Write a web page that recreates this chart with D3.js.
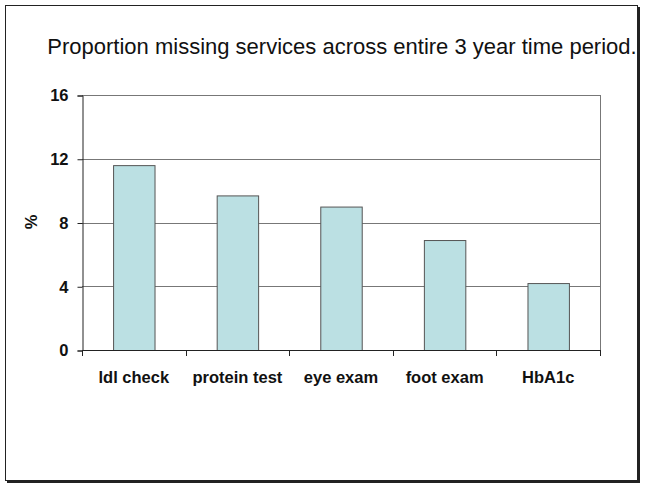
<!DOCTYPE html>
<html><head><meta charset="utf-8">
<script src="https://cdn.jsdelivr.net/npm/d3@7"></script>
<style>body{margin:0;background:#fff}svg{display:block}text{font-family:"Liberation Sans",Arial,sans-serif}</style>
</head><body>
<script>
const categories = ["ldl check", "protein test", "eye exam", "foot exam", "HbA1c"];
const values = [11.6, 9.7, 9.0, 6.9, 4.2];
const yTicks = [0, 4, 8, 12, 16];
const title = "Proportion missing services across entire 3 year time period.";
const yLabel = "%";

const W = 645, H = 488;
const svg = d3.select("body").append("svg").attr("width", W).attr("height", H);
// outer frame with shadow
svg.append("rect").attr("x", 7).attr("y", 7).attr("width", 633).attr("height", 476).attr("fill", "#222");
svg.append("rect").attr("x", 5.5).attr("y", 5.5).attr("width", 632).attr("height", 475).attr("fill", "#fff").attr("stroke", "#222").attr("stroke-width", 1);

const m = {left: 82, right: 600, top: 95, bottom: 350};
const x = d3.scaleBand().domain(categories).range([m.left, m.right]).paddingInner(0.6).paddingOuter(0.3);
const y = d3.scaleLinear().domain([0, 16]).range([m.bottom, m.top]);

svg.append("text").attr("x", 342).attr("y", 54).attr("text-anchor", "middle")
  .attr("font-size", 22).attr("fill", "#111").text(title);

// gridlines
svg.append("g").selectAll("line").data(yTicks.filter(d => d > 0)).join("line")
  .attr("x1", m.left).attr("x2", m.right).attr("y1", d => Math.round(y(d)) + 0.5).attr("y2", d => Math.round(y(d)) + 0.5)
  .attr("stroke", "#777").attr("stroke-width", 1);
// right border of plot area
svg.append("line").attr("x1", m.right + 0.5).attr("x2", m.right + 0.5).attr("y1", m.top).attr("y2", m.bottom)
  .attr("stroke", "#777");

// bars
svg.append("g").selectAll("rect").data(values).join("rect")
  .attr("x", (d, i) => x(categories[i]) + 0.5).attr("y", d => y(d) + 0.5)
  .attr("width", x.bandwidth()).attr("height", d => y(0) - y(d))
  .attr("fill", "#bbe0e3").attr("stroke", "#555").attr("stroke-width", 1);

// y axis
const ya = svg.append("g").attr("transform", `translate(${m.left + 0.5},0.5)`)
  .call(d3.axisLeft(y).tickValues(yTicks).tickSize(5).tickPadding(9).tickFormat(d3.format("d")));
ya.select(".domain").attr("stroke", "#222");
ya.selectAll(".tick line").attr("stroke", "#222");
ya.selectAll("text").attr("font-size", 16.5).attr("font-weight", "bold").attr("fill", "#111")
  .attr("font-family", "Liberation Sans, Arial, sans-serif");

// x axis
const bounds = d3.range(categories.length + 1).map(i => m.left + i * x.step());
const xa = svg.append("g");
xa.append("line").attr("x1", m.left).attr("x2", m.right).attr("y1", m.bottom + 0.5).attr("y2", m.bottom + 0.5).attr("stroke", "#222");
xa.selectAll(".tk").data(bounds).join("line").attr("class", "tk")
  .attr("x1", d => Math.round(d) + 0.5).attr("x2", d => Math.round(d) + 0.5)
  .attr("y1", m.bottom).attr("y2", m.bottom + 6).attr("stroke", "#222");
xa.selectAll("text").data(categories).join("text")
  .attr("x", d => x(d) + x.bandwidth() / 2).attr("y", 383).attr("text-anchor", "middle")
  .attr("font-size", 16.5).attr("font-weight", "bold").attr("fill", "#111").text(d => d);

svg.append("text").attr("transform", "translate(37,222) rotate(-90)").attr("text-anchor", "middle")
  .attr("font-size", 16.5).attr("font-weight", "bold").attr("fill", "#111").text(yLabel);
</script>
</body></html>
